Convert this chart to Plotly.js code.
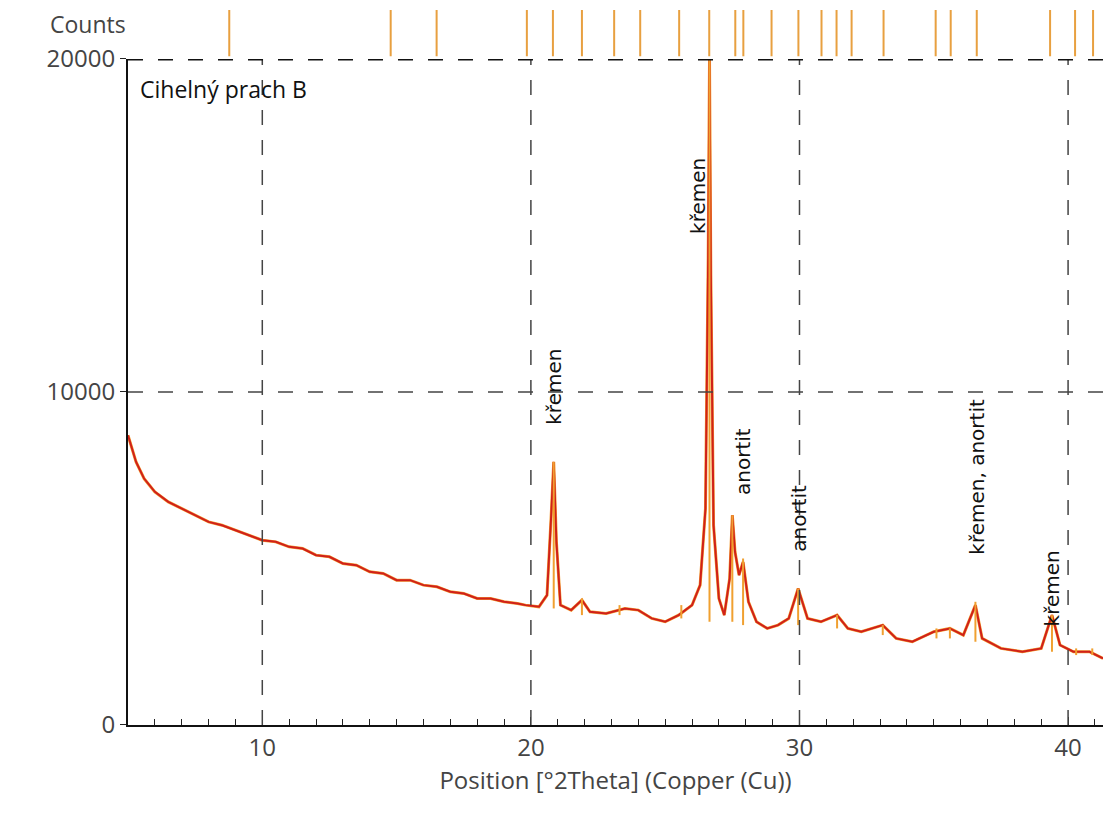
<!DOCTYPE html>
<html>
<head>
<script src="https://cdn.plot.ly/plotly-3.0.1.min.js"></script>
</head>
<body style="margin:0">
<div id="plot" style="width:1116px;height:838px;"></div>
<script>
var xObs=[5,5.3,5.6,6,6.5,7,7.5,8,8.5,9,9.5,10,10.5,11,11.5,12,12.5,13,13.5,14,14.5,15,15.5,16,16.5,17,17.5,18,18.5,19,19.5,19.8,20.3,20.6,20.75,20.85,20.95,21.1,21.5,21.9,22.2,22.8,23.5,24,24.5,25,25.5,26,26.3,26.5,26.6,26.65,26.7,26.8,27,27.2,27.4,27.5,27.6,27.75,27.9,28.1,28.4,28.8,29.2,29.6,29.95,30.3,30.8,31.4,31.8,32.3,33.1,33.6,34.2,35,35.6,36.1,36.55,36.8,37.5,38.3,39,39.4,39.7,40.2,40.8,41.3];
var yObs=[8700,7900,7400,7000,6700,6500,6300,6100,6000,5850,5700,5550,5500,5350,5300,5100,5050,4850,4800,4600,4550,4350,4350,4200,4150,4000,3950,3800,3800,3700,3650,3600,3550,3900,6200,7900,5500,3600,3450,3750,3400,3350,3500,3450,3200,3100,3300,3600,4200,6500,14000,20000,13500,6000,3800,3300,4400,6300,5200,4500,4900,3700,3100,2900,3000,3200,4100,3200,3100,3300,2900,2800,3000,2600,2500,2800,2900,2700,3600,2600,2300,2200,2300,3300,2400,2200,2200,2000];
// reference stick positions (top strip)
var refPos=[8.77,14.78,16.49,19.85,20.82,21.9,23.1,24.07,25.52,26.64,27.61,27.91,28.96,29.96,30.82,31.38,31.94,33.13,35.07,35.63,36.6,39.33,40.26,40.93];
// sticks drawn in the pattern: position, base, top
var stickX=[20.85,21.9,23.3,25.6,26.65,27.5,27.9,29.95,31.4,33.1,35.1,35.6,36.55,39.4,40.3,40.9];
var stickBase=[3500,3300,3300,3200,3100,3100,3000,3000,2900,2700,2600,2600,2500,2200,2100,2100];
var stickTop=[7900,3800,3600,3600,20000,6300,5000,4100,3300,3000,2900,2900,3700,3300,2300,2300];
var labels=[["křemen",20.85,10150],["křemen",26.2,15900],["anortit",27.9,7900],["anortit",29.95,6200],["křemen, anortit",36.6,7450],["křemen",39.4,4100]];
var xGrid=[10,20,30,40];
var yTicks=[0,10000,20000];

var sx=[],sy=[];
for(var i=0;i<stickX.length;i++){sx.push(stickX[i],stickX[i],null);sy.push(stickBase[i],stickTop[i],null);}
var rx=[],ry=[];
for(var i=0;i<refPos.length;i++){rx.push(refPos[i],refPos[i],null);ry.push(0,1,null);}

var traces=[
 {x:xObs,y:yObs,type:'scatter',mode:'lines',line:{color:'#f29a30',width:3},hoverinfo:'skip'},
 {x:xObs,y:yObs,type:'scatter',mode:'lines',line:{color:'#d0201a',width:2},hoverinfo:'skip'},
 {x:sx,y:sy,type:'scatter',mode:'lines',line:{color:'#f0a030',width:2},hoverinfo:'skip'},
 {x:rx,y:ry,type:'scatter',mode:'lines',line:{color:'#e8a040',width:2},xaxis:'x',yaxis:'y2',hoverinfo:'skip'}
];
var ann=labels.map(function(l){return {x:l[1],y:l[2],text:l[0],textangle:-90,showarrow:false,font:{size:20,color:'#111',family:'DejaVu Sans'},xanchor:'center',yanchor:'middle'};});
ann.push({xref:'paper',yref:'paper',x:0.01,y:0.915,text:'Cihelný prach B',showarrow:false,xanchor:'left',font:{size:23,color:'#111',family:'Open Sans'}});
ann.push({xref:'paper',yref:'paper',x:0,y:0.955,text:'Counts',showarrow:false,xanchor:'right',yanchor:'bottom',font:{size:23,color:'#444',family:'Open Sans'}});
var shapes=xGrid.map(function(v){return {type:'line',xref:'x',yref:'y',x0:v,x1:v,y0:0,y1:20000,line:{color:'#444',width:1.5,dash:'longdash'}};});
shapes.push({type:'line',xref:'paper',yref:'y',x0:0,x1:1,y0:10000,y1:10000,line:{color:'#444',width:1.5,dash:'longdash'}});
shapes.push({type:'line',xref:'paper',yref:'y',x0:0,x1:1,y0:20000,y1:20000,line:{color:'#111',width:3,dash:'longdash'}});
var layout={
 width:1116,height:838,margin:{l:128,r:13,t:10,b:113},showlegend:false,
 plot_bgcolor:'white',paper_bgcolor:'white',
 font:{family:'Open Sans',color:'#444',size:24},
 xaxis:{range:[5,41.3],tickvals:xGrid,showgrid:false,
   zeroline:false,showline:true,linecolor:'#111',linewidth:2,ticks:'inside',ticklen:8,tickcolor:'#222',
   minor:{dtick:1,ticks:'inside',ticklen:6,tickcolor:'#222'},
   title:{text:'Position [°2Theta] (Copper (Cu))',font:{size:24,color:'#444'},standoff:4}},
 yaxis:{domain:[0,0.9315],range:[0,20000],tickvals:yTicks,ticktext:yTicks.map(String),showgrid:false,
   zeroline:false,showline:true,linecolor:'#111',linewidth:2,ticks:'outside',ticklen:6,tickcolor:'#222'},
 yaxis2:{domain:[0.935,1],range:[0,1],showgrid:false,zeroline:false,showticklabels:false,showline:false},
 shapes:shapes,
 annotations:ann
};
Plotly.newPlot('plot',traces,layout,{displayModeBar:false});
</script>
</body>
</html>
